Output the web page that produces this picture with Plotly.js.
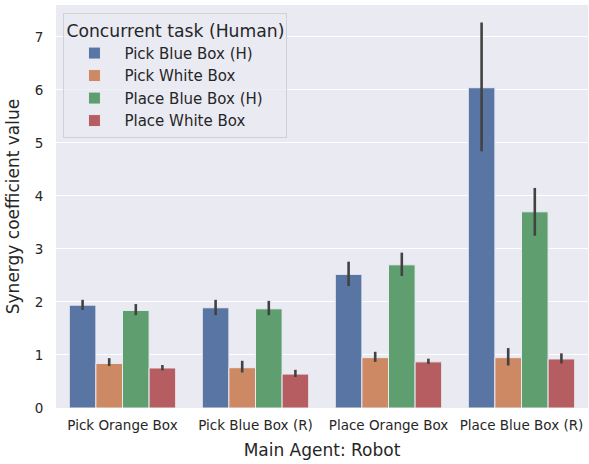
<!DOCTYPE html>
<html>
<head>
<meta charset="utf-8">
<script src="https://cdn.plot.ly/plotly-3.0.1.min.js"></script>
<style>body{margin:0;padding:0;background:#fff;} #chart{width:589px;height:464px;}</style>
</head>
<body>
<div id="chart"></div>
<script>
const categories = ["Pick Orange Box", "Pick Blue Box (R)", "Place Orange Box", "Place Blue Box (R)"];
const seriesNames = ["Pick Blue Box (H)", "Pick White Box", "Place Blue Box (H)", "Place White Box"];
const colors = ["#5975a4", "#cc8963", "#5f9e6e", "#b55d60"];

const pickBlueH = [1.94, 1.89, 2.52, 6.04];
const pickBlueH_hi = [2.04, 2.04, 2.76, 7.27];
const pickBlueH_lo = [1.85, 1.75, 2.30, 4.84];

const pickWhite = [0.84, 0.76, 0.95, 0.95];
const pickWhite_hi = [0.94, 0.89, 1.06, 1.13];
const pickWhite_lo = [0.79, 0.67, 0.87, 0.80];

const placeBlueH = [1.84, 1.87, 2.70, 3.70];
const placeBlueH_hi = [1.96, 2.02, 2.93, 4.15];
const placeBlueH_lo = [1.75, 1.75, 2.49, 3.25];

const placeWhite = [0.755, 0.64, 0.87, 0.925];
const placeWhite_hi = [0.81, 0.72, 0.93, 1.03];
const placeWhite_lo = [0.71, 0.585, 0.83, 0.84];

const values = [pickBlueH, pickWhite, placeBlueH, placeWhite];
const his = [pickBlueH_hi, pickWhite_hi, placeBlueH_hi, placeWhite_hi];
const los = [pickBlueH_lo, pickWhite_lo, placeBlueH_lo, placeWhite_lo];

const traces = seriesNames.map((name, i) => ({
  type: 'bar',
  name: name,
  x: categories,
  y: values[i],
  marker: {color: colors[i], line: {color: '#eaeaf2', width: 1}},
  error_y: {
    type: 'data', symmetric: false,
    array: values[i].map((v, j) => his[i][j] - v),
    arrayminus: values[i].map((v, j) => v - los[i][j]),
    color: '#424242', thickness: 2.6, width: 0
  }
}));

const layout = {
  width: 589, height: 464,
  margin: {l: 56, r: 1, t: 5, b: 56},
  paper_bgcolor: '#ffffff',
  plot_bgcolor: '#eaeaf2',
  font: {family: 'DejaVu Sans, sans-serif', color: '#262626', size: 13},
  barmode: 'group',
  bargap: 0.2,
  bargroupgap: 0,
  showlegend: true,
  legend: {
    x: 0.014, y: 0.979, xanchor: 'left', yanchor: 'top',
    bgcolor: 'rgba(234,234,242,0.8)', bordercolor: '#d0d0d8', borderwidth: 1,
    font: {size: 15, color: '#262626'},
    title: {text: 'Concurrent task (Human)', font: {size: 17.2, color: '#262626'}},
    tracegroupgap: 0, itemwidth: 50
  },
  xaxis: {
    type: 'category',
    range: [-0.5, 3.5],
    showgrid: false, zeroline: false, showline: false,
    ticks: 'outside', ticklen: 5, tickcolor: 'rgba(0,0,0,0)',
    tickfont: {size: 13.5, color: '#262626'},
    title: {text: 'Main Agent: Robot', font: {size: 17, color: '#262626'}, standoff: 11}
  },
  yaxis: {
    range: [0, 7.6],
    dtick: 1, tick0: 0,
    showgrid: true, gridcolor: '#ffffff', gridwidth: 1,
    zeroline: false, showline: false,
    ticks: 'outside', ticklen: 9, tickcolor: 'rgba(0,0,0,0)',
    tickfont: {size: 13.5, color: '#262626'},
    title: {text: 'Synergy coefficient value', font: {size: 17, color: '#262626'}, standoff: 10}
  }
};

Plotly.newPlot('chart', traces, layout, {displayModeBar: false, staticPlot: true});
</script>
</body>
</html>
